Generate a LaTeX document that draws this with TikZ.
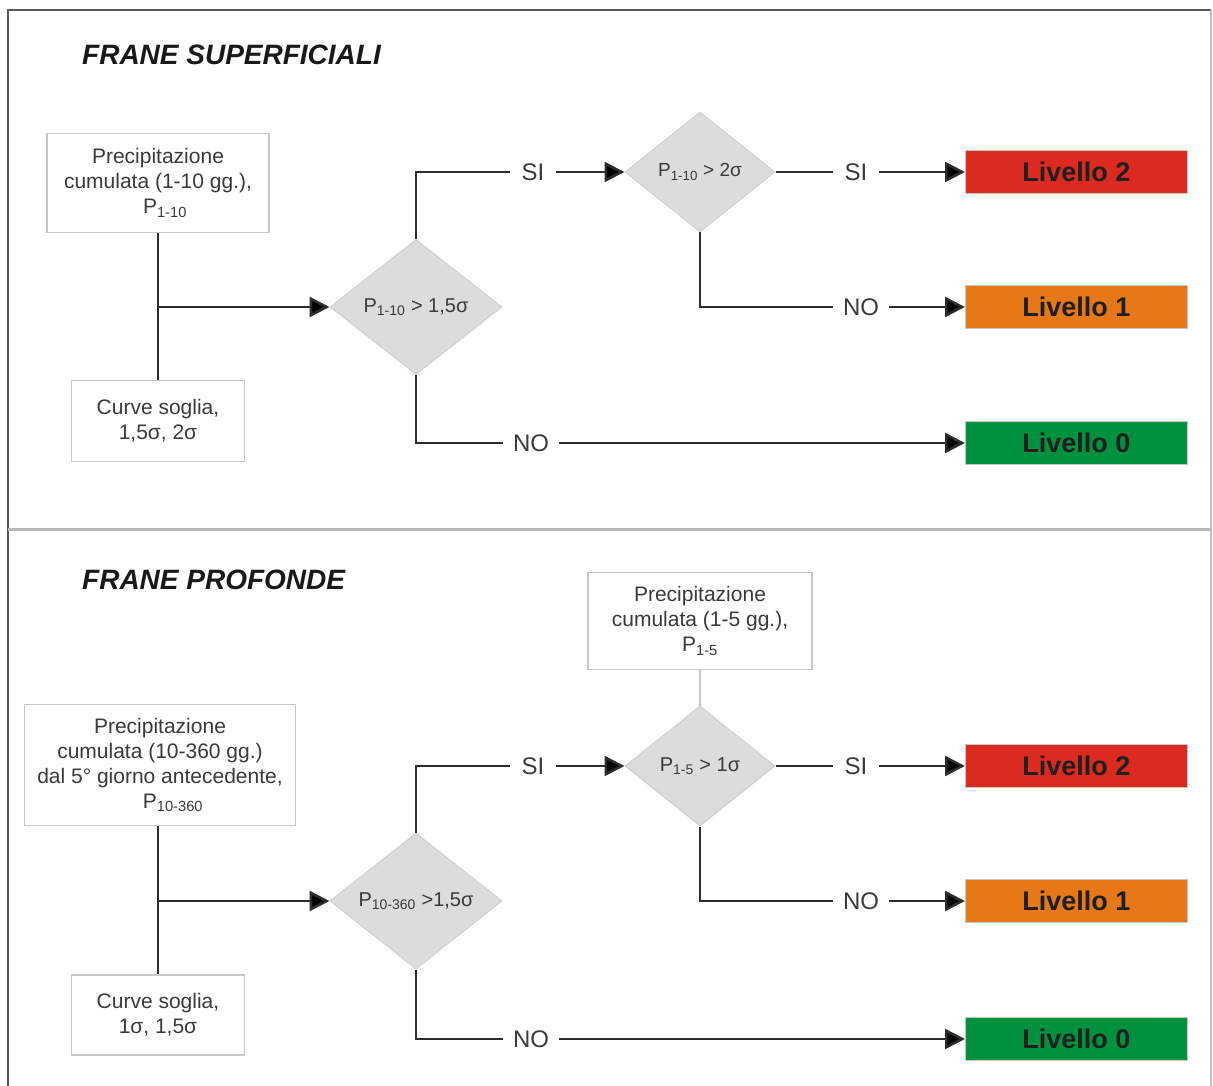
\documentclass[tikz,border=0pt]{standalone}
\usepackage{fontspec}
\setmainfont{Liberation Sans}
\usepackage{tikz}
\usetikzlibrary{arrows.meta,shapes.geometric}
\newcommand{\pcum}[1]{P\textsubscript{#1}}
\definecolor{boxgray}{HTML}{C8C8C8}
\definecolor{diafill}{HTML}{DCDCDC}
\definecolor{diaedge}{HTML}{CFCFCF}
\definecolor{linegray}{HTML}{2E2C2C}
\definecolor{textgray}{HTML}{3A3A3A}
\definecolor{liv2}{HTML}{DC2A20}
\definecolor{liv1}{HTML}{E67818}
\definecolor{liv0}{HTML}{00913F}
\tikzset{
  infobox/.style={draw=boxgray, line width=1.5pt, fill=white, text=textgray, align=center,
    inner sep=0pt, font=\fontsize{21}{25}\selectfont},
  test/.style={diamond, draw=diaedge, fill=diafill, line width=1pt, inner sep=0pt,
    text=textgray, font=\fontsize{20}{24}\selectfont},
  livello/.style={anchor=west, minimum width=222pt, minimum height=43pt, inner sep=0pt,
    draw=gray!45, line width=0.8pt, text=black!88, font=\fontsize{27}{30}\selectfont\bfseries},
  answer/.style={inner ysep=0pt, inner xsep=11pt, text=textgray, font=\fontsize{24}{28}\selectfont},
  flow/.style={draw=linegray, line width=2.6pt},
  arrow/.style={flow, -{Triangle[length=20pt,width=20pt,fill=black]}},
  title/.style={anchor=base west, inner sep=0pt, text=black!90, font=\fontsize{28}{32}\selectfont\bfseries\itshape}
}

\begin{document}
\begin{tikzpicture}[x=1pt,y=-1pt]
  \useasboundingbox (0,0) rectangle (1213,1086);
  \draw [line width=2.5pt, black!65] (8,1086) -- (8,10) -- (1211,10);
  \draw [line width=2pt, black!25] (1211,10) -- (1211,1086);
  \draw [line width=3pt, black!28] (8,529) -- (1211,529);

  % frane superficiali
  \node [title] (tsup) at (82,65) {FRANE SUPERFICIALI};
  \node [infobox, minimum width=222pt, minimum height=99pt] (sup-prec) at (158,183)
    {Precipitazione\\cumulata (1-10 gg.),\\\hspace*{14pt}\pcum{1-10}};
  \node [infobox, minimum width=173pt, minimum height=81pt] (sup-curve) at (158,421)
    {Curve soglia,\\1,5σ, 2σ};
  \node [test, minimum width=172pt, minimum height=135pt] (sup-t1) at (416,307) {\pcum{1-10} > 1,5σ};
  \node [test, minimum width=150pt, minimum height=120pt, font=\fontsize{19}{22}\selectfont] (sup-t2) at (700,172) {\pcum{1-10} > 2σ};
  \node [livello, fill=liv2] (sup-l2) at (965,172) {Livello 2};
  \node [livello, fill=liv1] (sup-l1) at (965,307) {Livello 1};
  \node [livello, fill=liv0] (sup-l0) at (965,443) {Livello 0};
  \node [answer] (sup-si1) at (533,172) {SI};
  \node [answer] (sup-si2) at (856,172) {SI};
  \node [answer, inner xsep=10pt] (sup-no1) at (861,307) {NO};
  \node [answer, inner xsep=10pt] (sup-no0) at (531,443) {NO};
  \coordinate (sup-j) at (sup-prec.south |- sup-t1.west);
  \draw [flow] (sup-prec.south) -- (sup-curve.north);
  \draw [arrow] (sup-j) -- (sup-t1.west);
  \draw [flow] (sup-t1.north) |- (sup-si1.west);
  \draw [arrow] (sup-si1.east) -- (sup-t2.west);
  \draw [flow] (sup-t2.east) -- (sup-si2.west);
  \draw [arrow] (sup-si2.east) -- (sup-l2.west);
  \draw [flow] (sup-t2.south) |- (sup-no1.west);
  \draw [arrow] (sup-no1.east) -- (sup-l1.west);
  \draw [flow] (sup-t1.south) |- (sup-no0.west);
  \draw [arrow] (sup-no0.east) -- (sup-l0.west);

  % frane profonde
  \node [title] (tpro) at (82,589) {FRANE PROFONDE};
  \node [infobox, minimum width=271pt, minimum height=121pt] (pro-prec) at (160,765)
    {Precipitazione\\cumulata (10-360 gg.)\\dal 5° giorno antecedente,\\\hspace*{26pt}\pcum{10-360}};
  \node [infobox, minimum width=173pt, minimum height=80pt] (pro-curve) at (158,1015)
    {Curve soglia,\\1σ, 1,5σ};
  \node [infobox, minimum width=224pt, minimum height=97pt] (pro-prec5) at (700,621)
    {Precipitazione\\cumulata (1-5 gg.),\\\pcum{1-5}};
  \node [test, minimum width=172pt, minimum height=136pt] (pro-t1) at (416,901) {\pcum{10-360} >1,5σ};
  \node [test, minimum width=150pt, minimum height=120pt] (pro-t2) at (700,766) {\pcum{1-5} > 1σ};
  \node [livello, fill=liv2] (pro-l2) at (965,766) {Livello 2};
  \node [livello, fill=liv1] (pro-l1) at (965,901) {Livello 1};
  \node [livello, fill=liv0] (pro-l0) at (965,1039) {Livello 0};
  \node [answer] (pro-si1) at (533,766) {SI};
  \node [answer] (pro-si2) at (856,766) {SI};
  \node [answer, inner xsep=10pt] (pro-no1) at (861,901) {NO};
  \node [answer, inner xsep=10pt] (pro-no0) at (531,1039) {NO};
  \coordinate (pro-j) at (pro-curve.north |- pro-t1.west);
  \draw [flow] (pro-prec.south -| pro-curve.north) -- (pro-curve.north);
  \draw [arrow] (pro-j) -- (pro-t1.west);
  \draw [line width=1.2pt, boxgray] (pro-prec5.south) -- (pro-t2.north);
  \draw [flow] (pro-t1.north) |- (pro-si1.west);
  \draw [arrow] (pro-si1.east) -- (pro-t2.west);
  \draw [flow] (pro-t2.east) -- (pro-si2.west);
  \draw [arrow] (pro-si2.east) -- (pro-l2.west);
  \draw [flow] (pro-t2.south) |- (pro-no1.west);
  \draw [arrow] (pro-no1.east) -- (pro-l1.west);
  \draw [flow] (pro-t1.south) |- (pro-no0.west);
  \draw [arrow] (pro-no0.east) -- (pro-l0.west);
\end{tikzpicture}
\end{document}
